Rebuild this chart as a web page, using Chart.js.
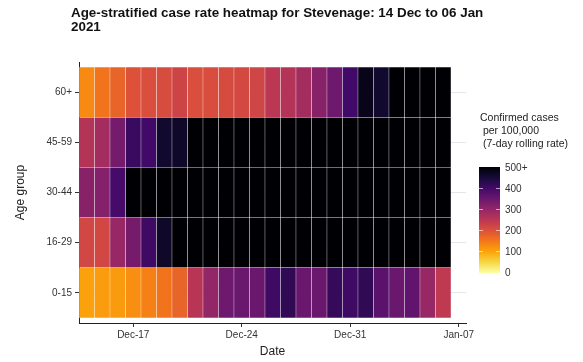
<!DOCTYPE html>
<html>
<head>
<meta charset="utf-8">
<script src="https://cdn.jsdelivr.net/npm/chart.js@4.4.0/dist/chart.umd.min.js"></script>
<style>
  body { margin: 0; background: #fff; font-family: "Liberation Sans", Arial, sans-serif; }
  #wrap { position: relative; width: 583px; height: 362px; }
  #title { position: absolute; left: 71px; top: 6px; font-size: 13.4px; font-weight: bold; line-height: 14px; color: #111; }
  #legend-title { position: absolute; left: 480px; top: 111px; font-size: 10.5px; line-height: 13px; color: #222; white-space: pre; }
  #bar { position: absolute; left: 479px; top: 167px; width: 21px; height: 106px; }
  .lab { position: absolute; left: 505px; font-size: 10px; color: #333; transform: translateY(-50%); }
  .tk { position: absolute; width: 4px; height: 1px; background: rgba(255,255,255,0.6); }
</style>
</head>
<body>
<div id="wrap">
  <canvas id="myChart" width="583" height="362"></canvas>
  <div id="title">Age-stratified case rate heatmap for Stevenage: 14 Dec to 06 Jan<br>2021</div>
  <div id="legend-title">Confirmed cases
 per 100,000
 (7-day rolling rate)</div>
  <div id="bar"></div>
</div>
<script>
// dates shown on the x axis (14 Dec 2020 .. 06 Jan 2021)
const dates = ['Dec-14', 'Dec-15', 'Dec-16', 'Dec-17', 'Dec-18', 'Dec-19', 'Dec-20', 'Dec-21',
  'Dec-22', 'Dec-23', 'Dec-24', 'Dec-25', 'Dec-26', 'Dec-27', 'Dec-28', 'Dec-29', 'Dec-30',
  'Dec-31', 'Jan-01', 'Jan-02', 'Jan-03', 'Jan-04', 'Jan-05', 'Jan-06'];
const ageGroups = ['0-15', '16-29', '30-44', '45-59', '60+'];
const xTickPos = [3, 10, 17, 24];
const xTickLabels = ['Dec-17', 'Dec-24', 'Dec-31', 'Jan-07'];
const legendTicks = [0, 100, 200, 300, 400, 500];

// 7-day rolling case rate per 100,000 (>500 shown as 500+)
const rate0to15 = [105, 110, 112, 125, 140, 155, 175, 255, 300, 345, 350, 350,
  405, 420, 350, 350, 415, 405, 420, 370, 350, 362, 295, 245];
const rate16to29 = [220, 220, 295, 335, 405, 465, 560, 580, 600, 620, 640, 650,
  660, 640, 630, 650, 660, 650, 640, 620, 610, 600, 590, 580];
const rate30to44 = [315, 318, 395, 520, 560, 600, 620, 640, 650, 660, 670, 680,
  690, 680, 670, 690, 700, 690, 680, 660, 640, 630, 620, 610];
const rate45to59 = [260, 280, 335, 410, 400, 460, 465, 520, 540, 560, 580, 600,
  610, 600, 590, 610, 620, 610, 600, 590, 580, 570, 560, 550];
const rate60plus = [130, 155, 175, 200, 205, 210, 225, 205, 208, 212, 215, 222,
  250, 260, 280, 315, 345, 400, 480, 460, 520, 540, 560, 580];
const rates = [rate0to15, rate16to29, rate30to44, rate45to59, rate60plus];

// inferno palette, dark (high) to light (low)
const inferno = ['#000004', '#160b39', '#420a68', '#6a176e', '#932667', '#bc3754',
  '#dd513a', '#f37819', '#fca50a', '#f6d746', '#fcffa4'];

const hexToRgb = (h) => [1, 3, 5].map((i) => parseInt(h.slice(i, i + 2), 16));
const rateColor = (v) => {
  const t = (1 - Math.min(v, 500) / 500) * (inferno.length - 1);
  const i = Math.min(Math.floor(t), inferno.length - 2);
  const f = t - i;
  const a = hexToRgb(inferno[i]);
  const b = hexToRgb(inferno[i + 1]);
  const c = a.map((x, k) => Math.round(x + (b[k] - x) * f));
  return `rgb(${c.join(',')})`;
};

// legend colour bar + labels
const wrap = document.getElementById('wrap');
document.getElementById('bar').style.background = `linear-gradient(to top, ${inferno.slice().reverse().join(', ')})`;
legendTicks.forEach((v) => {
  const y = 272 - v * 0.21;
  const el = document.createElement('div');
  el.className = 'lab';
  el.style.top = `${y}px`;
  el.textContent = v === 500 ? '500+' : String(v);
  wrap.appendChild(el);
  if (v > 0 && v < 500) {
    [479, 496].forEach((x) => {
      const tk = document.createElement('div');
      tk.className = 'tk';
      tk.style.left = `${x}px`;
      tk.style.top = `${Math.round(y)}px`;
      wrap.appendChild(tk);
    });
  }
});

const ctx = document.getElementById('myChart');
// eslint-disable-next-line no-new
new Chart(ctx, {
  type: 'bar',
  data: {
    datasets: ageGroups.map((grp, r) => ({
      label: grp,
      data: dates.map((d, i) => ({ x: i, y: [r, r + 1] })),
      backgroundColor: rates[r].map(rateColor),
      borderColor: 'rgba(255,255,255,0.3)',
      borderWidth: 0.5,
      borderSkipped: false,
      grouped: false,
      barPercentage: 1,
      categoryPercentage: 1,
    })),
  },
  options: {
    responsive: false,
    animation: false,
    layout: { padding: { top: 62, right: 117, left: 0, bottom: 0 } },
    plugins: { legend: { display: false }, tooltip: { enabled: false } },
    scales: {
      x: {
        type: 'linear',
        offset: false,
        min: -0.5,
        max: 24.47,
        afterBuildTicks: (s) => { s.ticks = xTickPos.map((v) => ({ value: v })); },
        afterFit: (s) => { s.height = 39; },
        ticks: {
          callback: (v) => xTickLabels[xTickPos.indexOf(v)],
          font: { size: 10, family: 'Liberation Sans' },
          color: '#333',
          padding: 2,
          maxRotation: 0,
          autoSkip: false,
        },
        grid: { offset: false, color: 'transparent', tickColor: '#333', tickLength: 4 },
        border: { color: '#222', width: 1 },
        title: { display: true, text: 'Date', font: { size: 12, family: 'Liberation Sans' }, color: '#222', padding: { top: 2, bottom: 3 } },
      },
      y: {
        type: 'linear',
        min: -0.1,
        max: 5.1,
        afterBuildTicks: (s) => { s.ticks = ageGroups.map((g, i) => ({ value: i + 0.5 })); },
        afterFit: (s) => { s.width = 79; },
        ticks: {
          callback: (v) => ageGroups[Math.round(v - 0.5)],
          font: { size: 10, family: 'Liberation Sans' },
          color: '#333',
          padding: 3,
        },
        grid: { color: '#e6e6e6', tickColor: '#333', tickLength: 4 },
        border: { color: '#222', width: 1 },
        title: { display: true, text: 'Age group', font: { size: 12, family: 'Liberation Sans' }, color: '#222', padding: { top: 13, bottom: 0 } },
      },
    },
  },
});
</script>
</body>
</html>
